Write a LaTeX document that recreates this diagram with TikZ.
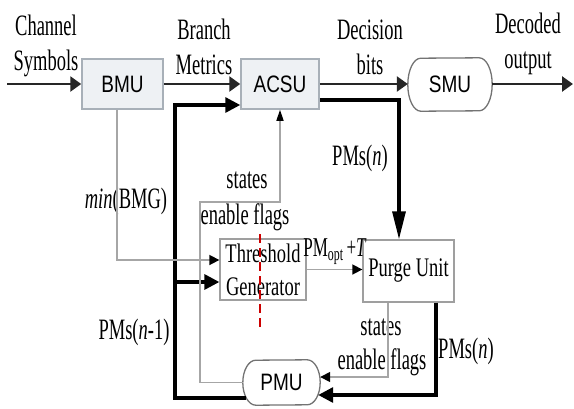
\documentclass[tikz,border=0pt]{standalone}
\usepackage{fontspec}
\setmainfont{Liberation Serif}
\newfontfamily\unitfont{Liberation Sans}
\usetikzlibrary{arrows.meta,positioning,calc}
\definecolor{unitfill}{HTML}{EEF1F4}
\definecolor{unitedge}{HTML}{A8B0B8}
% text in the figure is drawn tall and narrow
\newcommand{\tall}[2][1.6]{\scalebox{1}[#1]{#2}}

\begin{document}
\begin{tikzpicture}[
    x=1pt, y=-1pt,
    every node/.style={align=center, inner sep=0pt},
    unitbox/.style={
        rectangle, draw=unitedge, line width=1.5pt,
        fill=unitfill, minimum width=81pt, minimum height=50pt,
        font=\unitfont\fontsize{19}{22}\selectfont
    },
    pill/.style={
        rectangle, minimum width=84pt,
        font=\unitfont\fontsize{19}{22}\selectfont
    },
    pillline/.style={draw=gray!90!black, line width=1.3pt},
    procbox/.style={
        rectangle, draw=gray!75, line width=1.3pt,
        fill=white, font=\fontsize{18.5}{33}\selectfont
    },
    sig/.style={font=\fontsize{18.5}{35}\selectfont},
    flow/.style={line width=2.6pt, black!85, -{Triangle[length=11pt,width=15pt]}},
    bus/.style={line width=3.2pt, black, -{Triangle[length=15pt,width=15pt]}},
    ctrl/.style={line width=1.6pt, gray!70, -{Triangle[length=10pt,width=10pt,color=black]}}
]
\useasboundingbox (0,0) rectangle (574,408);

% units
\node[unitbox] (bmu) at (122.5,84) {\tall[1.25]{BMU}};
\node[unitbox, minimum width=78pt] (acsu) at (280,84) {\tall[1.25]{ACSU}};
\node[pill, minimum height=53pt] (smu) at (450,84.5) {\tall[1.25]{SMU}};
\node[pill, minimum width=77pt, minimum height=45pt] (pmu) at (281.5,382.5) {\tall[1.25]{PMU}};
\node[procbox, minimum width=86pt, minimum height=61pt] (thr) at (263,269.5)
    {\tall[1.45]{Threshold}\\\tall[1.45]{Generator}};
\node[procbox, minimum width=91pt, minimum height=62pt] (purge) at (408.5,271)
    {\tall[1.45]{Purge Unit}};

\foreach \n/\r in {smu/26.5pt, pmu/22.5pt}
    \draw[pillline] ([xshift=-13pt]\n.north east)
        arc[start angle=90, end angle=-90, x radius=13pt, y radius=\r]
        -- ([xshift=13pt]\n.south west)
        arc[start angle=270, end angle=90, x radius=13pt, y radius=\r] -- cycle;

% signal labels
\node[sig] (chsym) at (46,46) {\tall{Channel}\\\tall{Symbols}};
\node[sig] (brmet) at (204,46.5) {\tall{Branch}\\\tall{Metrics}};
\node[sig] (decbit) at (370,47.5) {\tall{Decision}\\\tall{bits}};
\node[sig] (decout) at (528,43.5) {\tall{Decoded}\\\tall{output}};
\node[sig] (pmsa) at (360,158) {\tall{PMs(\textit{n})}};
\node[sig] (minbmg) at (126,201) {\tall{\textit{min}(BMG)}};
\node[sig] (statesa) at (247,180) {\tall{states}};
\node[sig] (flagsa) at (245,217) {\tall{enable flags}};
\node[sig] (pmsold) at (134,332) {\tall{PMs(\textit{n}-1)}};
\node[sig] (statesb) at (381,327) {\tall{states}};
\node[sig] (flagsb) at (382,362) {\tall{enable flags}};
\node[sig] (pmsb) at (466,351) {\tall{PMs(\textit{n})}};
\node[sig, font=\fontsize{17}{20}\selectfont] (pmopt) at (335,252)
    {\tall{PM\textsubscript{opt}\,+\textit{T}}};

% main data path
\coordinate (in) at (7,84);
\coordinate (out) at (573,84);
\draw[flow] (in) -- (bmu.west);
\draw[flow] (bmu.east) -- (acsu.west);
\draw[flow] (acsu.east) -- (acsu.east -| smu.west);
\draw[flow] (smu.east |- out) -- (out);

% path metrics
\draw[bus, -{Triangle[length=28pt,width=13pt]}] ([yshift=-16pt]acsu.east) -| ([xshift=-9.5pt]purge.north);
\coordinate (pmuout) at ([xshift=3.5pt,yshift=-15.5pt]pmu.west);
\coordinate (split) at (175,398);
\coordinate (tgin) at ([yshift=-12.5pt]thr.west);
\draw[bus] (pmuout) -- (split) |- ([yshift=-21pt]acsu.west);
\draw[bus] (split |- tgin) -- (tgin);
\draw[bus] ([xshift=27.5pt]purge.south) |- ([xshift=-2pt,yshift=-12.5pt]pmu.east);

% control lines
\coordinate (flagbend) at (200,202);
\draw[ctrl] ([xshift=-5.5pt]bmu.south) |- ([yshift=9.5pt]thr.west);
\draw[ctrl, -{Triangle[length=11pt,width=7pt,color=black]}] (pmu.west) -| (flagbend) -| (acsu.south);
\draw[ctrl] (thr.east) -- (thr.east -| purge.west);
\draw[ctrl] ([xshift=-20.5pt]purge.south) |- ([yshift=5.5pt]pmu.east);

% threshold mark
\draw[red!80!black, line width=1.5pt, dash pattern=on 9pt off 5pt] (260,234) -- (260,328);

\end{tikzpicture}
\end{document}
